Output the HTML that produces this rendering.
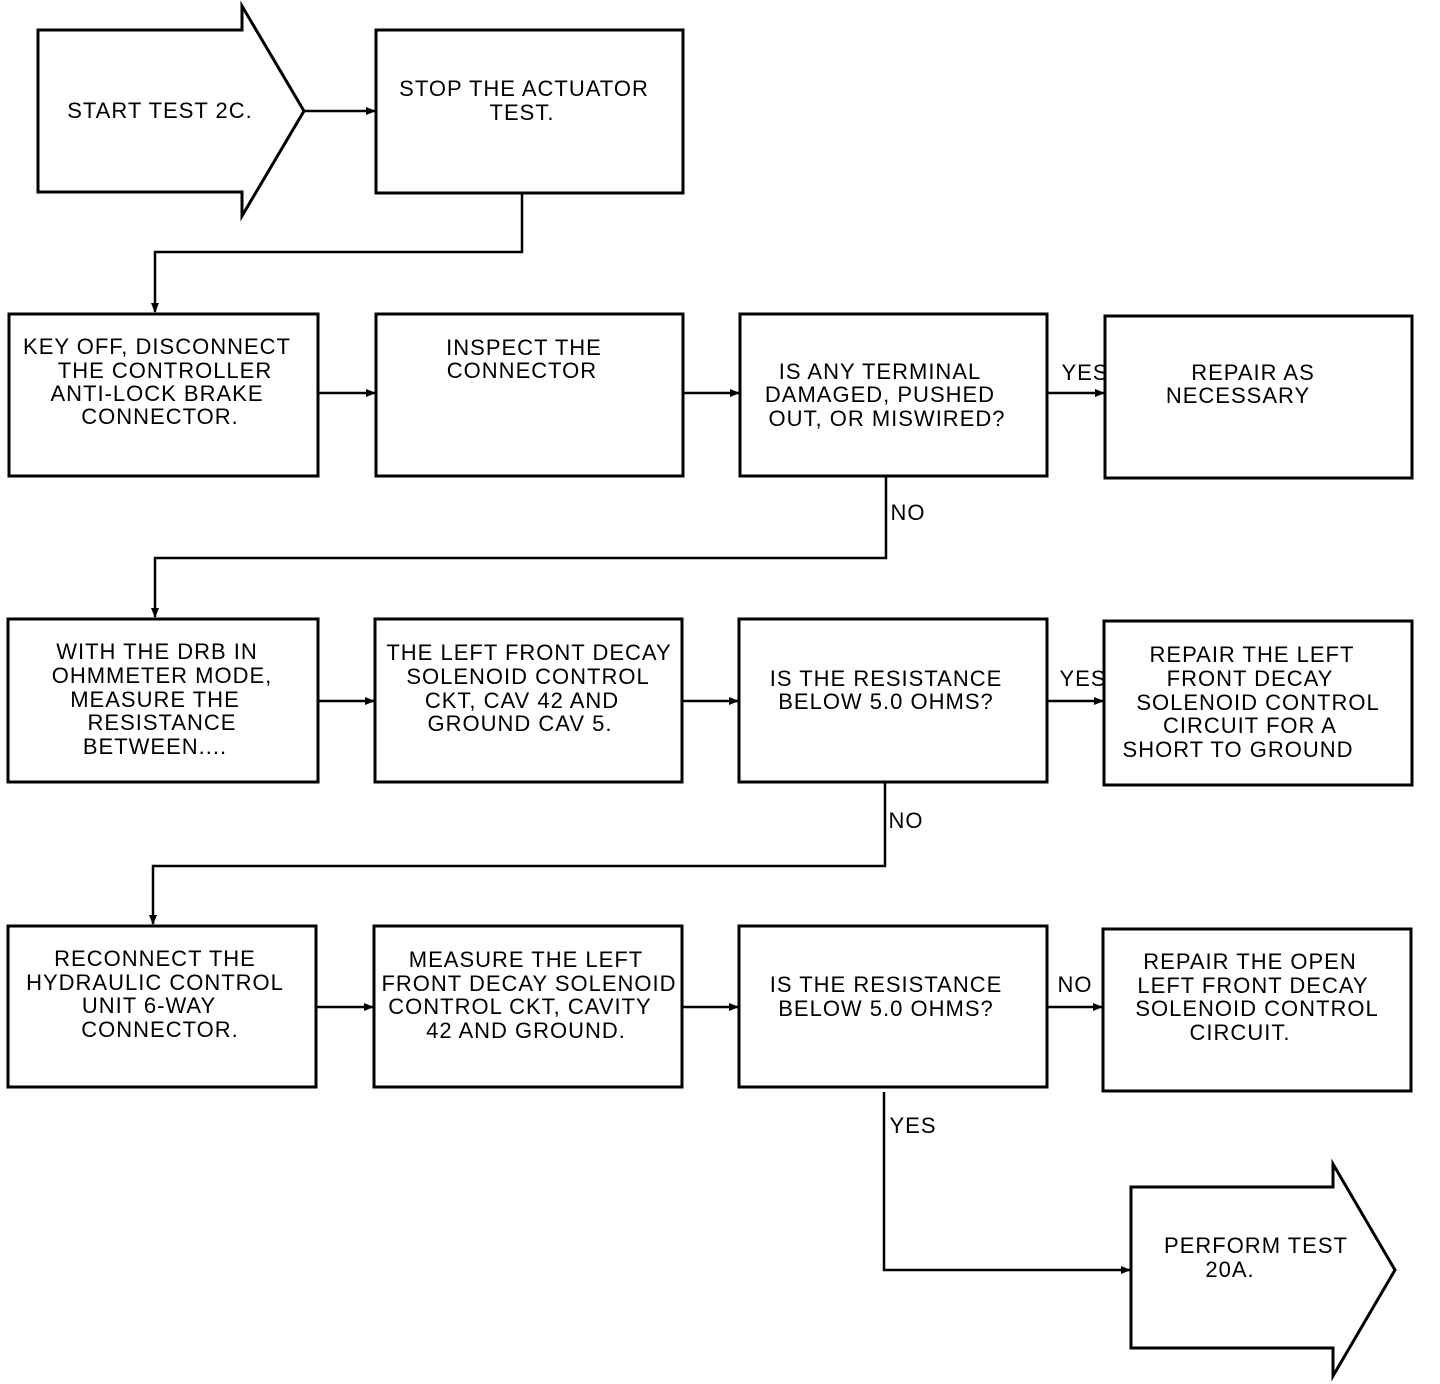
<!DOCTYPE html>
<html><head><meta charset="utf-8"><style>
html,body{margin:0;padding:0;background:#fff;}
svg{display:block;}
text{font-family:"Liberation Sans",sans-serif;font-size:22px;letter-spacing:1px;fill:#000;text-anchor:middle;}
</style></head><body>
<svg width="1440" height="1384" viewBox="0 0 1440 1384" xmlns="http://www.w3.org/2000/svg">
<defs><marker id="a" markerWidth="10" markerHeight="8" refX="9" refY="4" orient="auto" markerUnits="userSpaceOnUse"><path d="M0,0 L10,4 L0,8 z" fill="#000"/></marker></defs>
<g fill="none" stroke="#000" stroke-width="3">
<path d="M38,30 H242 V6 L304,111 L242,216 V192 H38 Z"/>
<rect x="376" y="30" width="307" height="163"/>
<rect x="9" y="314" width="309" height="162"/>
<rect x="376" y="314" width="307" height="162"/>
<rect x="740" y="314" width="307" height="162"/>
<rect x="1105" y="316" width="307" height="162"/>
<rect x="8" y="619" width="310" height="163"/>
<rect x="375" y="619" width="307" height="163"/>
<rect x="739" y="619" width="308" height="163"/>
<rect x="1104" y="621" width="308" height="164"/>
<rect x="8" y="926" width="308" height="161"/>
<rect x="374" y="926" width="308" height="161"/>
<rect x="739" y="926" width="308" height="161"/>
<rect x="1103" y="929" width="308" height="162"/>
<path d="M1131,1187 H1333 V1164 L1395,1270 L1333,1376 V1348 H1131 Z"/>
</g>
<g fill="none" stroke="#000" stroke-width="2.5" marker-end="url(#a)">
<path d="M304,111 H375"/>
<path d="M522,193 V252 H155 V312"/>
<path d="M318,393 H375"/>
<path d="M683,393 H739"/>
<path d="M1047,393 H1104"/>
<path d="M886,476 V558 H155 V617"/>
<path d="M318,701 H374"/>
<path d="M682,701 H738"/>
<path d="M1047,701 H1103"/>
<path d="M885,782 V866 H153 V924"/>
<path d="M316,1007 H373"/>
<path d="M682,1007 H738"/>
<path d="M1047,1007 H1102"/>
<path d="M884,1092 V1270 H1130"/>
</g>
<text x="160" y="118">START TEST 2C.</text>
<text x="524" y="96">STOP THE ACTUATOR</text>
<text x="522" y="120">TEST.</text>
<text x="157" y="354">KEY OFF, DISCONNECT</text>
<text x="165" y="378">THE CONTROLLER</text>
<text x="157" y="401">ANTI-LOCK BRAKE</text>
<text x="160" y="424">CONNECTOR.</text>
<text x="524" y="355">INSPECT THE</text>
<text x="522" y="378">CONNECTOR</text>
<text x="880" y="379">IS ANY TERMINAL</text>
<text x="880" y="402">DAMAGED, PUSHED</text>
<text x="887" y="426">OUT, OR MISWIRED?</text>
<text x="1085" y="380">YES</text>
<text x="1253" y="380">REPAIR AS</text>
<text x="1238" y="403">NECESSARY</text>
<text x="908" y="520">NO</text>
<text x="157" y="659">WITH THE DRB IN</text>
<text x="162" y="683">OHMMETER MODE,</text>
<text x="155" y="707">MEASURE THE</text>
<text x="162" y="730">RESISTANCE</text>
<text x="155" y="754">BETWEEN....</text>
<text x="529" y="660">THE LEFT FRONT DECAY</text>
<text x="528" y="684">SOLENOID CONTROL</text>
<text x="522" y="708">CKT, CAV 42 AND</text>
<text x="520" y="731">GROUND CAV 5.</text>
<text x="886" y="686">IS THE RESISTANCE</text>
<text x="886" y="709">BELOW 5.0 OHMS?</text>
<text x="1083" y="686">YES</text>
<text x="1252" y="662">REPAIR THE LEFT</text>
<text x="1250" y="686">FRONT DECAY</text>
<text x="1258" y="710">SOLENOID CONTROL</text>
<text x="1250" y="733">CIRCUIT FOR A</text>
<text x="1238" y="757">SHORT TO GROUND</text>
<text x="906" y="828">NO</text>
<text x="155" y="966">RECONNECT THE</text>
<text x="155" y="990">HYDRAULIC CONTROL</text>
<text x="149" y="1013">UNIT 6-WAY</text>
<text x="160" y="1037">CONNECTOR.</text>
<text x="526" y="967">MEASURE THE LEFT</text>
<text x="529" y="991">FRONT DECAY SOLENOID</text>
<text x="520" y="1014">CONTROL CKT, CAVITY</text>
<text x="526" y="1038">42 AND GROUND.</text>
<text x="886" y="992">IS THE RESISTANCE</text>
<text x="886" y="1016">BELOW 5.0 OHMS?</text>
<text x="1075" y="992">NO</text>
<text x="1250" y="969">REPAIR THE OPEN</text>
<text x="1253" y="993">LEFT FRONT DECAY</text>
<text x="1257" y="1016">SOLENOID CONTROL</text>
<text x="1240" y="1040">CIRCUIT.</text>
<text x="913" y="1133">YES</text>
<text x="1256" y="1253">PERFORM TEST</text>
<text x="1230" y="1277">20A.</text>
</svg>
</body></html>
